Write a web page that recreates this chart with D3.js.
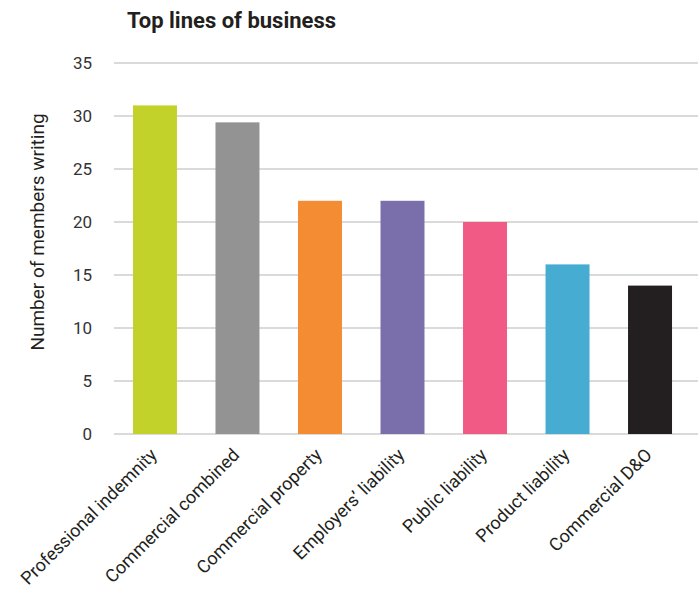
<!DOCTYPE html>
<html>
<head>
<meta charset="utf-8">
<script src="https://cdn.jsdelivr.net/npm/d3@7"></script>
<style>
  body { margin: 0; background: #fff; }
  svg { display: block; font-family: Roboto, 'DejaVu Sans Condensed', sans-serif; }
</style>
</head>
<body>
<svg id="chart" width="698" height="594"></svg>
<script>
// data ------------------------------
const categories = [
  'Professional indemnity',
  'Commercial combined',
  'Commercial property',
  'Employers\u2019 liability',
  'Public liability',
  'Product liability',
  'Commercial D&O'
]
const values = [31, 29.4, 22, 22, 20, 16, 14]
const colors = ['#c2d22a', '#939393', '#f48c33', '#7b6fab', '#f05a84', '#47acd2', '#231f20']
const yTicks = [0, 5, 10, 15, 20, 25, 30, 35]

function draw() {
  const svg = d3.select('#chart')
  const gridLeft = 114
  const gridRight = 698
  const top = 63
  const bottom = 434

  const x = d3.scaleBand().domain(categories).range([114, 691]).paddingInner(0.467).paddingOuter(0.23)
  const y = d3.scaleLinear().domain([0, 35]).range([bottom, top])

  // title
  svg
    .append('text')
    .attr('x', 127)
    .attr('y', 28)
    .style('font-size', '22px')
    .style('font-weight', 'bold')
    .style('fill', '#231f20')
    .text('Top lines of business')

  // gridlines
  svg
    .append('g')
    .selectAll('line')
    .data(yTicks)
    .join('line')
    .attr('x1', gridLeft)
    .attr('x2', gridRight)
    .attr('y1', (d) => y(d))
    .attr('y2', (d) => y(d))
    .attr('stroke', '#dadada')
    .attr('stroke-width', 2)

  // y tick labels
  svg
    .append('g')
    .selectAll('text')
    .data(yTicks)
    .join('text')
    .attr('x', 92)
    .attr('y', (d) => y(d))
    .attr('dy', '0.35em')
    .attr('text-anchor', 'end')
    .style('font-size', '17px')
    .style('fill', '#333')
    .text((d) => d)

  // y axis title
  svg
    .append('text')
    .attr('transform', `translate(44, 232) rotate(-90)`)
    .attr('text-anchor', 'middle')
    .style('font-size', '19px')
    .style('fill', '#231f20')
    .text('Number of members writing')

  // bars
  svg
    .append('g')
    .selectAll('rect')
    .data(values)
    .join('rect')
    .attr('x', (d, i) => x(categories[i]))
    .attr('width', x.bandwidth())
    .attr('y', (d) => y(d))
    .attr('height', (d) => y(0) - y(d))
    .attr('fill', (d, i) => colors[i])

  // category labels
  svg
    .append('g')
    .selectAll('text')
    .data(categories)
    .join('text')
    .attr('transform', (d) => `translate(${x(d) + x.bandwidth() / 2 + 3}, 456) rotate(-45)`)
    .attr('text-anchor', 'end')
    .style('font-size', '18px')
    .style('fill', '#231f20')
    .text((d) => d)
}

draw()
</script>
</body>
</html>
